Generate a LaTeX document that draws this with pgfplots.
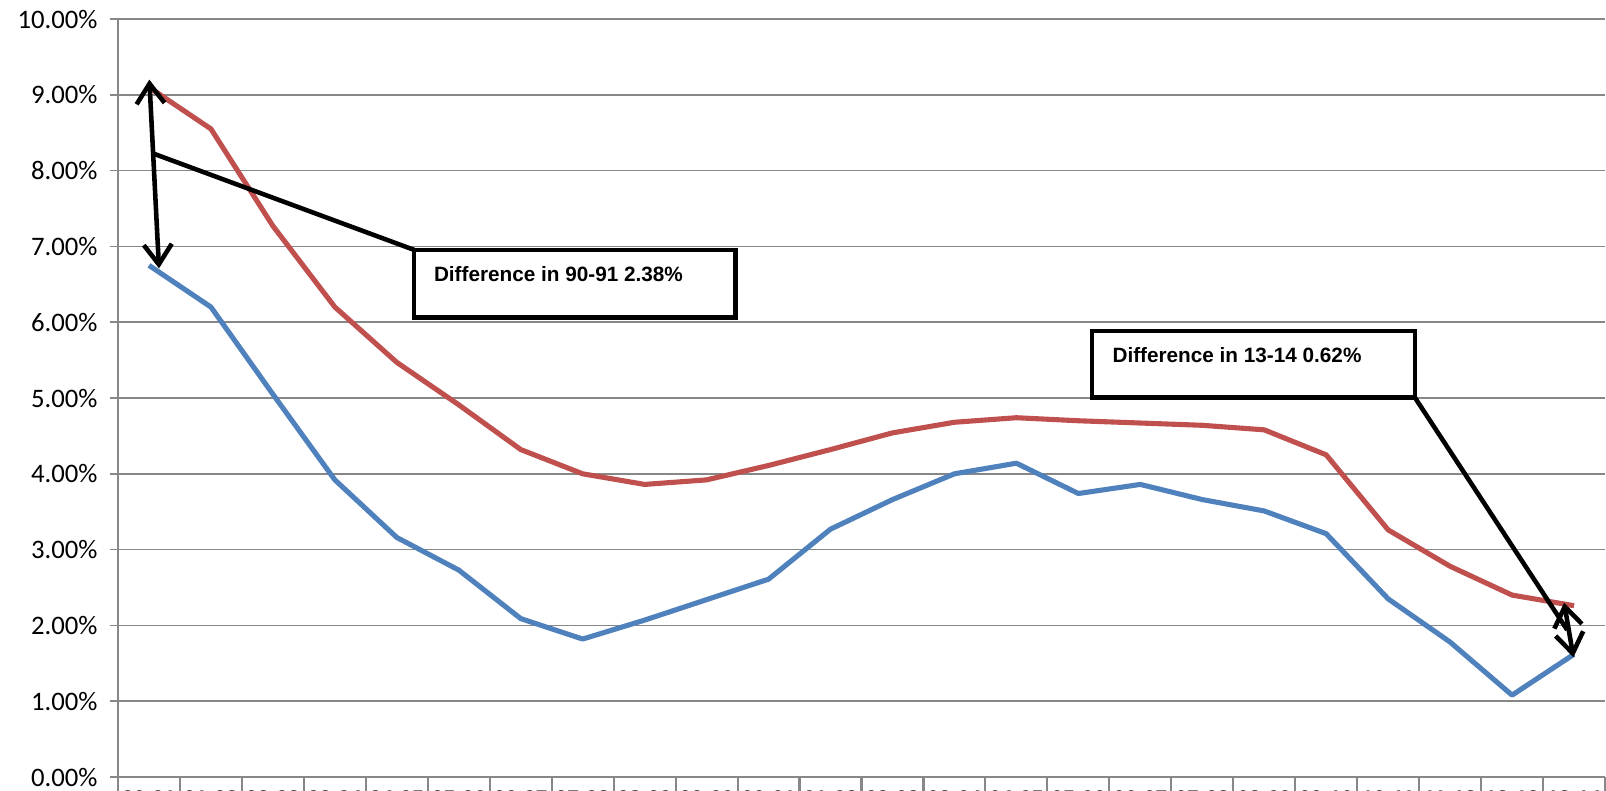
\documentclass[border=0pt]{standalone}
\usepackage{pgfplots}
\pgfplotsset{compat=1.18}
\usepackage{fontspec}
\setmainfont{Liberation Sans}
\newfontfamily\calibri{Carlito}
\usetikzlibrary{arrows.meta}
\definecolor{xlred}{HTML}{C0504D}
\definecolor{xlblue}{HTML}{4F81BD}
\definecolor{xlgrid}{HTML}{878787}
\begin{document}
\begin{tikzpicture}
\begin{axis}[
  scale only axis, width=148.7mm, height=75.8mm,
  xmin=-0.5, xmax=23.5, ymin=0, ymax=10,
  axis x line=bottom, axis y line=left,
  axis line style={-, draw=xlgrid, line width=0.55pt},
  ytick={0,1,...,10},
  yticklabels={0.00\%,1.00\%,2.00\%,3.00\%,4.00\%,5.00\%,6.00\%,7.00\%,8.00\%,9.00\%,10.00\%},
  yticklabel style={font=\calibri\fontsize{7.6}{9}\selectfont, text=black},
  ymajorgrids, grid style={draw=xlgrid, line width=0.5pt},
  xtick={0,1,...,23},
  xticklabels={90-91,91-92,92-93,93-94,94-95,95-96,96-97,97-98,98-99,99-00,00-01,01-02,02-03,03-04,04-05,05-06,06-07,07-08,08-09,09-10,10-11,11-12,12-13,13-14},
  xticklabel style={font=\bfseries\fontsize{6}{7}\selectfont, text=black, anchor=north, inner sep=0pt, yshift=-0.5mm},
  major x tick style={draw=none},
  minor xtick={-0.5,0.5,...,23.5},
  minor x tick style={draw=xlgrid, line width=0.6pt},
  major y tick style={draw=xlgrid, line width=0.5pt},
  tick align=outside, major tick length=0.8mm, minor tick length=4mm,
  clip=false,
]
\addplot[xlred, line width=1.45pt, line join=round] coordinates {
(0,9.10) (1,8.55) (2,7.27) (3,6.20) (4,5.47) (5,4.91) (6,4.32) (7,4.00) (8,3.86) (9,3.92) (10,4.11) (11,4.32) (12,4.54) (13,4.68) (14,4.74) (15,4.70) (16,4.67) (17,4.64) (18,4.58) (19,4.25) (20,3.26) (21,2.78) (22,2.40) (23,2.26)};
\addplot[xlblue, line width=1.45pt, line join=round] coordinates {
(0,6.75) (1,6.20) (2,5.05) (3,3.92) (4,3.16) (5,2.73) (6,2.09) (7,1.82) (8,2.07) (9,2.34) (10,2.61) (11,3.27) (12,3.66) (13,4.00) (14,4.14) (15,3.74) (16,3.86) (17,3.66) (18,3.51) (19,3.21) (20,2.35) (21,1.78) (22,1.08) (23,1.62)};
% annotation 1
\draw[black, line width=1.3pt, {Straight Barb[length=2mm,width=2.8mm]}-{Straight Barb[length=2mm,width=2.8mm]}] (axis cs:0.006,9.20) -- (axis cs:0.162,6.71);
\draw[black, line width=1.3pt] (axis cs:0.086,8.22) -- (axis cs:4.28,6.954);
\draw[black, line width=1.3pt, fill=white] (axis cs:4.28,6.954) rectangle (axis cs:9.47,6.062);
\node[anchor=west, inner sep=0pt, font=\bfseries\fontsize{5.9}{7}\selectfont] at (axis cs:4.589,6.636) {Difference in 90-91 2.38\%};
% annotation 2
\draw[black, line width=1.3pt, {Straight Barb[length=2mm,width=2.8mm]}-{Straight Barb[length=2mm,width=2.8mm]}] (axis cs:22.84,2.30) -- (axis cs:22.99,1.58);
\draw[black, line width=1.3pt] (axis cs:20.43,5.008) -- (axis cs:22.89,1.94);
\draw[black, line width=1.3pt, fill=white] (axis cs:15.22,5.886) rectangle (axis cs:20.43,5.008);
\node[anchor=west, inner sep=0pt, font=\bfseries\fontsize{5.9}{7}\selectfont] at (axis cs:15.54,5.567) {Difference in 13-14 0.62\%};
\end{axis}
\pgfresetboundingbox
\path[use as bounding box] (-11.8mm,-1.3mm) rectangle (148.8mm,77.7mm);
\end{tikzpicture}
\end{document}
